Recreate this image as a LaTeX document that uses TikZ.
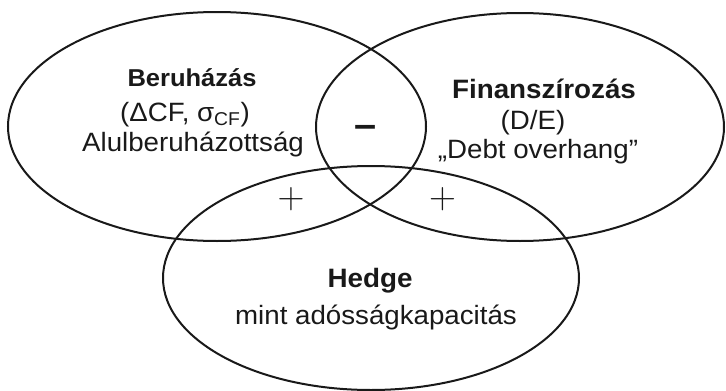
\documentclass[tikz,border=0pt]{standalone}
\usepackage{fontspec}
\setmainfont{Liberation Sans}[FakeStretch=1.045]
\usetikzlibrary{shapes.geometric}
\tikzset{
  venn/.style={ellipse, draw=black!90, line width=2pt, inner sep=0pt},
  lbl/.style={anchor=base, inner sep=0pt, text=black!90},
  sign/.style={inner sep=0pt, text=black!90}
}
\begin{document}
\begin{tikzpicture}[x=1pt,y=-1pt]
\useasboundingbox (0,0) rectangle (726,391);
\node[venn, minimum width=418pt, minimum height=229pt] (inv) at (217,126.5) {};
\node[venn, minimum width=408pt, minimum height=228pt] (fin) at (520,127) {};
\node[venn, minimum width=416pt, minimum height=224pt] (hed) at (371,278) {};
% left block
\node[lbl, font=\fontsize{24.4}{28}\selectfont\bfseries] (t1) at (192,86) {Beruházás};
\node[lbl, font=\fontsize{26.5}{30}\selectfont] (t2) at (185,121) {(ΔCF, σ\textsubscript{CF})};
\node[lbl, font=\fontsize{26.5}{30}\selectfont] (t3) at (193,151) {Alulberuházottság};
% right block
\node[lbl, font=\fontsize{26.6}{30}\selectfont\bfseries] (r1) at (544,98) {Finanszírozás};
\node[lbl, font=\fontsize{26.5}{30}\selectfont] (r2) at (533,129) {(D/E)};
\node[lbl, font=\fontsize{26.5}{30}\selectfont] (r3) at (538,158) {„Debt overhang”};
% bottom block
\node[lbl, font=\fontsize{26.6}{30}\selectfont\bfseries] (h1) at (370,287) {Hedge};
\node[lbl, font=\fontsize{26.5}{30}\selectfont] (h2) at (376,324) {mint adósságkapacitás};
% signs
\node[sign, font=\fontsize{38}{42}\selectfont\bfseries] (minus) at (366,131) {–};
\node[sign] (plusl) at (291,199.5) {\scalebox{1.5}{\Huge$+$}};
\node[sign] (plusr) at (442.5,199.5) {\scalebox{1.5}{\Huge$+$}};
\end{tikzpicture}
\end{document}
